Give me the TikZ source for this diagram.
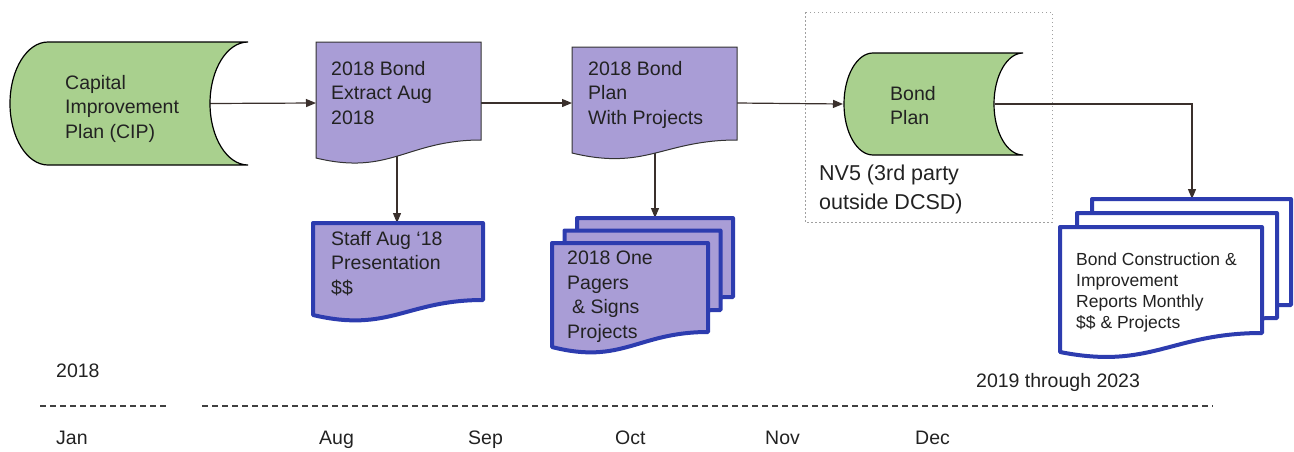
\documentclass[tikz,border=0pt]{standalone}
\usepackage{fontspec}
\setmainfont{Liberation Sans}
\usetikzlibrary{arrows.meta}

\definecolor{storegreen}{HTML}{A9D08E}
\definecolor{docpurple}{HTML}{A99DD6}
\definecolor{pageblue}{HTML}{2D3CAF}
\definecolor{wire}{HTML}{3A302C}
\definecolor{ink}{HTML}{222222}
\definecolor{boxgray}{HTML}{A0A0A0}

% Document shape: flat top, straight sides, wavy bottom edge
% #1 style, #2 left x, #3 top y, #4 right x, #5 bottom-right y, #6 bottom-left y
\newcommand\DocShape[6]{%
  \filldraw[#1] (#2,#3) -- (#4,#3) -- (#4,#5)
    .. controls ({#2+0.55*(#4-#2)},#5) and ({#2+0.45*(#4-#2)},{#6+18}) .. (#2,#6) -- cycle;}

% Stored-data shape: convex left end, concave right end
% #1 style, #2 left x of top edge, #3 right x, #4 top y, #5 bottom y, #6 curve depth
\newcommand\StoredData[6]{%
  \pgfmathsetmacro\sdmid{(#4+#5)/2}%
  \pgfmathsetmacro\sdky{0.552*(#5-#4)/2}%
  \pgfmathsetmacro\sdkx{0.552*#6}%
  \filldraw[#1] (#2,#4) -- (#3,#4)
    .. controls ({#3-\sdkx},#4) and ({#3-#6},{\sdmid-\sdky}) .. ({#3-#6},\sdmid)
    .. controls ({#3-#6},{\sdmid+\sdky}) and ({#3-\sdkx},#5) .. (#3,#5)
    -- (#2,#5)
    .. controls ({#2-\sdkx},#5) and ({#2-#6},{\sdmid+\sdky}) .. ({#2-#6},\sdmid)
    .. controls ({#2-#6},{\sdmid-\sdky}) and ({#2-\sdkx},#4) .. (#2,#4) -- cycle;}

\tikzset{
  lbl/.style={anchor=north west, inner sep=0pt, align=left, text=ink,
    font=\fontsize{19.5}{24.5}\selectfont},
  smalllbl/.style={lbl, font=\fontsize{17.5}{21}\selectfont},
  biglbl/.style={lbl, font=\fontsize{21.5}{29}\selectfont},
  flow/.style={draw=wire, line width=1.2pt, -{Triangle[length=10pt,width=8pt]}},
  storeshape/.style={fill=storegreen, draw=black, line width=1.2pt},
  plaindoc/.style={fill=docpurple, draw=black!80, line width=1pt},
  bluedoc/.style={fill=docpurple, draw=pageblue, line width=4pt, line join=round},
  whitedoc/.style={fill=white, draw=pageblue, line width=4pt, line join=round},
  timeline/.style={draw=black!75, line width=1.4pt, dash pattern=on 6pt off 4pt},
  groupbox/.style={draw=boxgray, line width=1pt, dash pattern=on 1.5pt off 2.5pt}
}

\begin{document}
\begin{tikzpicture}[x=1pt, y=-1pt]
\useasboundingbox (0,0) rectangle (1294,451);

% connection points
\coordinate (cip-out) at (209,103.5);
\coordinate (extract-in) at (316,103);
\coordinate (extract-out) at (481,103);
\coordinate (extract-down) at (397,150);
\coordinate (staff-in) at (397,223);
\coordinate (plan-in) at (572,103);
\coordinate (plan-out) at (737,103);
\coordinate (plan-down) at (655,145);
\coordinate (pagers-in) at (655,218);
\coordinate (bond-in) at (843,104);
\coordinate (bond-out) at (995,104);
\coordinate (reports-in) at (1192,199);

% connectors (drawn first so the shapes cover their starting ends)
\draw[flow] (cip-out) -- (extract-in);
\draw[flow] (extract-out) -- (plan-in);
\draw[flow] (plan-out) -- (bond-in);
\draw[flow] (bond-out) -| (reports-in);
\draw[flow] (extract-down) -- (staff-in);
\draw[flow] (plan-down) -- (pagers-in);

% third-party group
\draw[groupbox] (805,12) rectangle (1052,222);

% stored data
\StoredData{storeshape}{48}{248}{42}{165}{38}
\StoredData{storeshape}{873}{1023}{53}{155}{29}

% documents
\DocShape{plaindoc}{316}{42}{481}{140}{158}
\DocShape{plaindoc}{572}{47}{737}{140}{153}
\DocShape{bluedoc}{313}{223}{483}{300}{315}

% stack of one-pagers
\DocShape{bluedoc}{577}{218}{733}{297}{312}
\DocShape{bluedoc}{564.5}{230.5}{720.5}{310}{325}
\DocShape{bluedoc}{552}{243}{708}{332}{347}

% stack of monthly reports
\DocShape{whitedoc}{1092}{199}{1291}{305}{324}
\DocShape{whitedoc}{1077}{213}{1277}{318}{337}
\DocShape{whitedoc}{1060}{227}{1262}{333}{352}

% labels
\node[lbl] (cip) at (65,75) {Capital\\Improvement\\Plan (CIP)};
\node[lbl] (extract) at (331,61) {2018 Bond\\Extract Aug\\2018};
\node[lbl] (plan) at (588,61) {2018 Bond\\Plan\\With Projects};
\node[lbl] (bond) at (890,86) {Bond\\Plan};
\node[biglbl] (nv5) at (819,164.5) {NV5 (3rd party\\outside DCSD)};
\node[lbl] (staff) at (331,231) {Staff Aug `18\\Presentation\\\$\$};
\node[lbl] (pagers) at (567,251) {2018 One\\Pagers\\\hspace*{5pt}\& Signs\\Projects};
\node[smalllbl] (reports) at (1076,252.5) {Bond Construction \&\\Improvement\\Reports Monthly\\\$\$ \& Projects};

% timeline
\node[lbl] (year) at (56,364) {2018};
\node[lbl] (later) at (976,373) {2019 through 2023};
\coordinate (tl-a) at (40,406);
\coordinate (tl-b) at (167,406);
\coordinate (tl-c) at (202,406);
\coordinate (tl-d) at (1213,406);
\draw[timeline] (tl-a) -- (tl-b);
\draw[timeline] (tl-c) -- (tl-d);
\node[lbl] (jan) at (56,431) {Jan};
\node[lbl] (aug) at (319,431) {Aug};
\node[lbl] (sep) at (468,431) {Sep};
\node[lbl] (oct) at (615,431) {Oct};
\node[lbl] (nov) at (765,431) {Nov};
\node[lbl] (dec) at (915,431) {Dec};
\end{tikzpicture}
\end{document}
